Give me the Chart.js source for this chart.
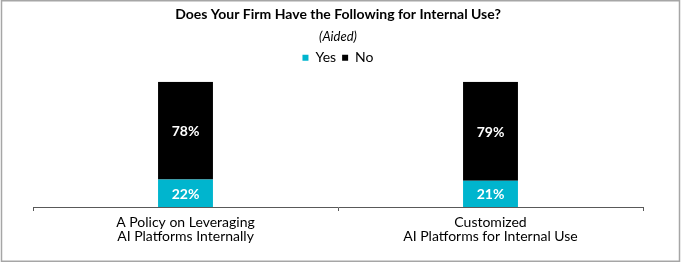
<!DOCTYPE html>
<html>
<head>
<meta charset="utf-8">
<script src="https://cdn.jsdelivr.net/npm/chart.js@4/dist/chart.umd.min.js"></script>
<style>
  html, body { margin: 0; padding: 0; background: #fff; }
  #wrap { position: relative; width: 682px; height: 263px; }
</style>
</head>
<body>
<div id="wrap"><canvas id="c" width="682" height="263"></canvas></div>
<script>
const categories = [
  ["A Policy on Leveraging", "AI Platforms Internally"],
  ["Customized", "AI Platforms for Internal Use"]
];
const yesValues = [22, 21];
const noValues = [78, 79];
const seriesNames = ["Yes", "No"];
const titleText = "Does Your Firm Have the Following for Internal Use?";
const subtitleText = "(Aided)";

const borderPlugin = {
  id: 'frame',
  beforeDraw(chart) {
    const ctx = chart.ctx;
    ctx.save();
    ctx.fillStyle = '#fff';
    ctx.fillRect(0, 0, chart.width, chart.height);
    ctx.strokeStyle = '#a6a6a6';
    ctx.lineWidth = 1.5;
    ctx.strokeRect(1.5, 0.75, 678, 260.5);
    ctx.restore();
  }
};

const spacerPlugin = {
  id: 'spacer',
  beforeInit(chart) {
    const box = {
      position: 'top', weight: 0, fullSize: true,
      options: { position: 'top', weight: 0, fullSize: true },
      top: 0, left: 0, right: 0, bottom: 0, width: 0, height: 0,
      isHorizontal() { return true; },
      update(maxWidth) { this.width = maxWidth; this.height = 7; },
      getPadding() { return { top: 0, left: 0, right: 0, bottom: 0 }; },
      draw() {}
    };
    Chart.layouts.addBox(chart, box);
  }
};

const labelPlugin = {
  id: 'barLabels',
  afterDatasetsDraw(chart) {
    const ctx = chart.ctx;
    ctx.save();
    ctx.font = 'bold 14px Lato';
    ctx.fillStyle = '#fff';
    ctx.textAlign = 'center';
    ctx.textBaseline = 'middle';
    chart.data.datasets.forEach((ds, di) => {
      const meta = chart.getDatasetMeta(di);
      meta.data.forEach((el, i) => {
        const y = (el.y + el.base) / 2;
        ctx.fillText(ds.data[i] + '%', el.x, y + 1);
      });
    });
    ctx.restore();
  }
};

new Chart(document.getElementById('c'), {
  type: 'bar',
  data: {
    labels: categories,
    datasets: [
      { label: seriesNames[0], data: yesValues, backgroundColor: '#00B5CE', borderWidth: 0 },
      { label: seriesNames[1], data: noValues, backgroundColor: '#000000', borderWidth: 0 }
    ]
  },
  options: {
    responsive: false,
    animation: false,
    devicePixelRatio: 1,
    layout: { padding: { left: 33, right: 39, top: 0, bottom: 16 } },
    datasets: { bar: { categoryPercentage: 1, barPercentage: 0.18 } },
    scales: {
      x: {
        stacked: true,
        offset: true,
        grid: { drawOnChartArea: false, drawTicks: true, tickLength: 4, color: '#595959', offset: true },
        border: { display: true, color: '#595959', width: 1 },
        ticks: { color: '#000', font: { family: 'Lato', size: 14, lineHeight: 1.0 }, padding: 4, maxRotation: 0, autoSkip: false }
      },
      y: {
        stacked: true,
        display: false,
        min: 0,
        max: 100
      }
    },
    plugins: {
      title: {
        display: true,
        text: titleText,
        color: '#000',
        font: { family: 'Lato', size: 14, weight: 'bold' },
        padding: { top: 6, bottom: 2 }
      },
      subtitle: {
        display: true,
        text: subtitleText,
        color: '#000',
        font: { family: 'Lato', size: 13, style: 'italic' },
        padding: { top: 4.4, bottom: 0 }
      },
      legend: {
        display: true,
        labels: {
          color: '#000',
          font: { family: 'Lato', size: 14 },
          boxWidth: 6,
          boxHeight: 6,
          padding: 6
        }
      },
      tooltip: { enabled: false }
    }
  },
  plugins: [borderPlugin, spacerPlugin, labelPlugin]
});
</script>
</body>
</html>
